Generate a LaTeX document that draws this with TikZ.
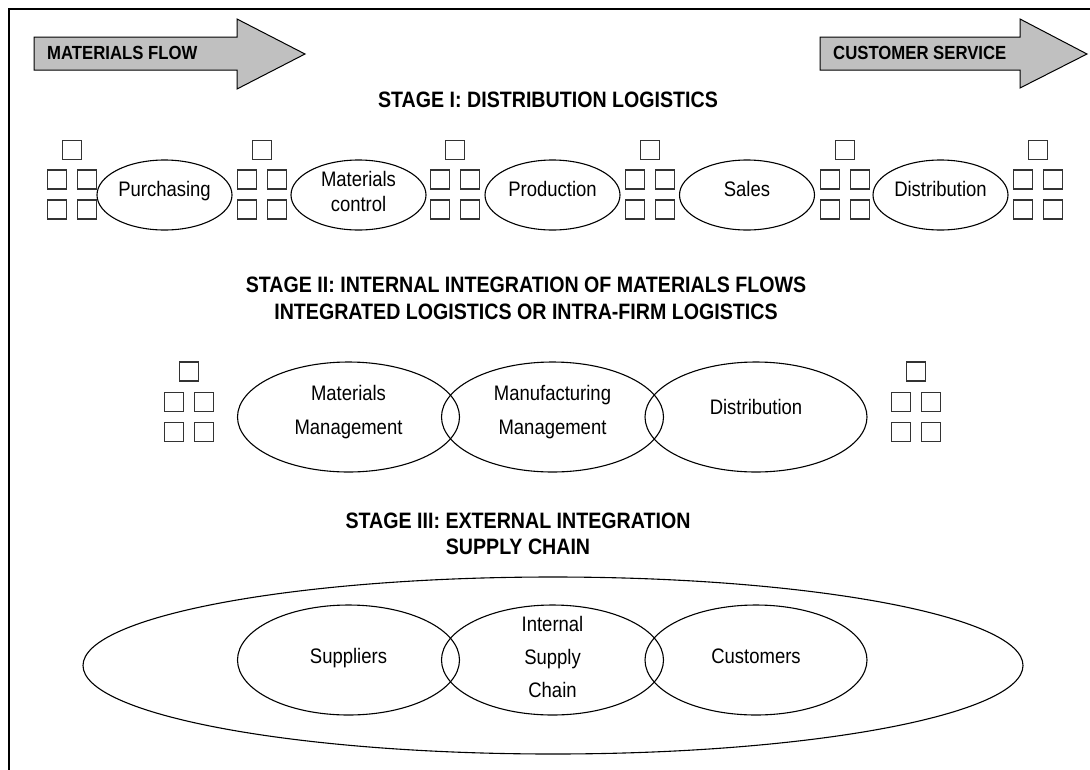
\documentclass[tikz,border=0pt]{standalone}
\usepackage{fontspec}
\setmainfont[FakeStretch=0.88]{Liberation Sans}
\usetikzlibrary{shapes.geometric}

\definecolor{arrowgray}{RGB}{192,192,192}

\tikzset{
  sqbox/.style={draw=black!80, line width=1.1pt, minimum size=19pt, inner sep=0pt},
  smallell/.style={ellipse, draw, line width=1.1pt, minimum width=135pt, minimum height=70pt, inner sep=0pt},
  bigell/.style={ellipse, draw, line width=1.1pt, minimum width=222pt, minimum height=110pt, inner sep=0pt},
  elltext/.style={font=\fontsize{21}{24.3}\selectfont, align=center, inner sep=0pt},
  heading/.style={font=\fontsize{22.3}{27}\selectfont\bfseries, align=center, inner sep=0pt},
  arrowlabel/.style={font=\fontsize{19}{22}\selectfont\bfseries, inner sep=0pt, anchor=base west},
  flowarrow/.style={draw, fill=arrowgray, line width=1pt},
}

\begin{document}
\begin{tikzpicture}[x=1pt,y=-1pt]
    \clip (0,0) rectangle (1090,769);
    \draw[line width=2pt] (9,800) -- (9,9) -- (1100,9);

    % the two flow arrows
    \draw[flowarrow] (34,37) -- (237,37) -- (237,19) -- (305,54) -- (237,89) -- (237,70) -- (34,70) -- cycle;
    \node[arrowlabel] (mflow) at (47,59.5) {MATERIALS FLOW};
    \draw[flowarrow] (820,37) -- (1020,37) -- (1020,19) -- (1087,54) -- (1020,88) -- (1020,70) -- (820,70) -- cycle;
    \node[arrowlabel] (cserv) at (833,59.5) {CUSTOMER SERVICE};

    % stage I
    \node[heading, anchor=base] (stage1) at (548,107.7) {STAGE I: DISTRIBUTION LOGISTICS};
    \foreach \gx [count=\i] in {72,262,455,650,845,1038} {
        \node[sqbox] (a\i-top) at (\gx,150) {};
        \node[sqbox] (a\i-ml) at ({\gx-15},179.5) {};
        \node[sqbox] (a\i-mr) at ({\gx+15},179.5) {};
        \node[sqbox] (a\i-bl) at ({\gx-15},209.5) {};
        \node[sqbox] (a\i-br) at ({\gx+15},209.5) {};
    }
    \node[smallell] (purch) at (164.5,195) {};
    \node[elltext, anchor=base] (purch-t) at ([yshift=-1.7pt]purch.center) {Purchasing};
    \node[smallell] (matctl) at (358.5,195) {};
    \node[elltext] (matctl-t) at ([yshift=3.6pt]matctl.center) {Materials\\control};
    \node[smallell] (prod) at (552.5,195) {};
    \node[elltext, anchor=base] (prod-t) at ([yshift=-1.7pt]prod.center) {Production};
    \node[smallell] (sales) at (747,195) {};
    \node[elltext, anchor=base] (sales-t) at ([yshift=-1.7pt]sales.center) {Sales};
    \node[smallell] (distr1) at (940.5,195) {};
    \node[elltext, anchor=base] (distr1-t) at ([yshift=-1.7pt]distr1.center) {Distribution};

    % stage II
    \node[heading] (stage2) at (526,298) {STAGE II: INTERNAL INTEGRATION OF MATERIALS FLOWS\\INTEGRATED LOGISTICS OR INTRA-FIRM LOGISTICS};
    \foreach \gx [count=\i] in {189,916} {
        \node[sqbox] (b\i-top) at (\gx,371.5) {};
        \node[sqbox] (b\i-ml) at ({\gx-15},402) {};
        \node[sqbox] (b\i-mr) at ({\gx+15},402) {};
        \node[sqbox] (b\i-bl) at ({\gx-15},432) {};
        \node[sqbox] (b\i-br) at ({\gx+15},432) {};
    }
    \node[bigell] (matmgmt) at (348.5,417) {};
    \node[elltext, font=\fontsize{21}{34}\selectfont] (matmgmt-t) at ([yshift=5.3pt]matmgmt.center) {Materials\\Management};
    \node[bigell] (manmgmt) at (552.5,417) {};
    \node[elltext, font=\fontsize{21}{34}\selectfont] (manmgmt-t) at ([yshift=5.3pt]manmgmt.center) {Manufacturing\\Management};
    \node[bigell] (distr2) at (756,417) {};
    \node[elltext, anchor=base] (distr2-t) at ([yshift=2.5pt]distr2.center) {Distribution};

    % stage III
    \node[heading, font=\fontsize{22.3}{26}\selectfont\bfseries] (stage3) at (518,533.5) {STAGE III: EXTERNAL INTEGRATION\\SUPPLY CHAIN};
    \node[ellipse, draw, line width=1.1pt, minimum width=940pt, minimum height=177pt, inner sep=0pt] (chain) at (553,665.5) {};
    \node[bigell] (suppl) at (348.5,660) {};
    \node[elltext, anchor=base] (suppl-t) at ([yshift=-3pt]suppl.center) {Suppliers};
    \node[bigell] (intsc) at (552.5,660) {};
    \node[elltext, font=\fontsize{21}{33}\selectfont] (intsc-t) at ([yshift=3pt]intsc.center) {Internal\\Supply\\Chain};
    \node[bigell] (cust) at (756,660) {};
    \node[elltext, anchor=base] (cust-t) at ([yshift=-3pt]cust.center) {Customers};
\end{tikzpicture}
\end{document}
